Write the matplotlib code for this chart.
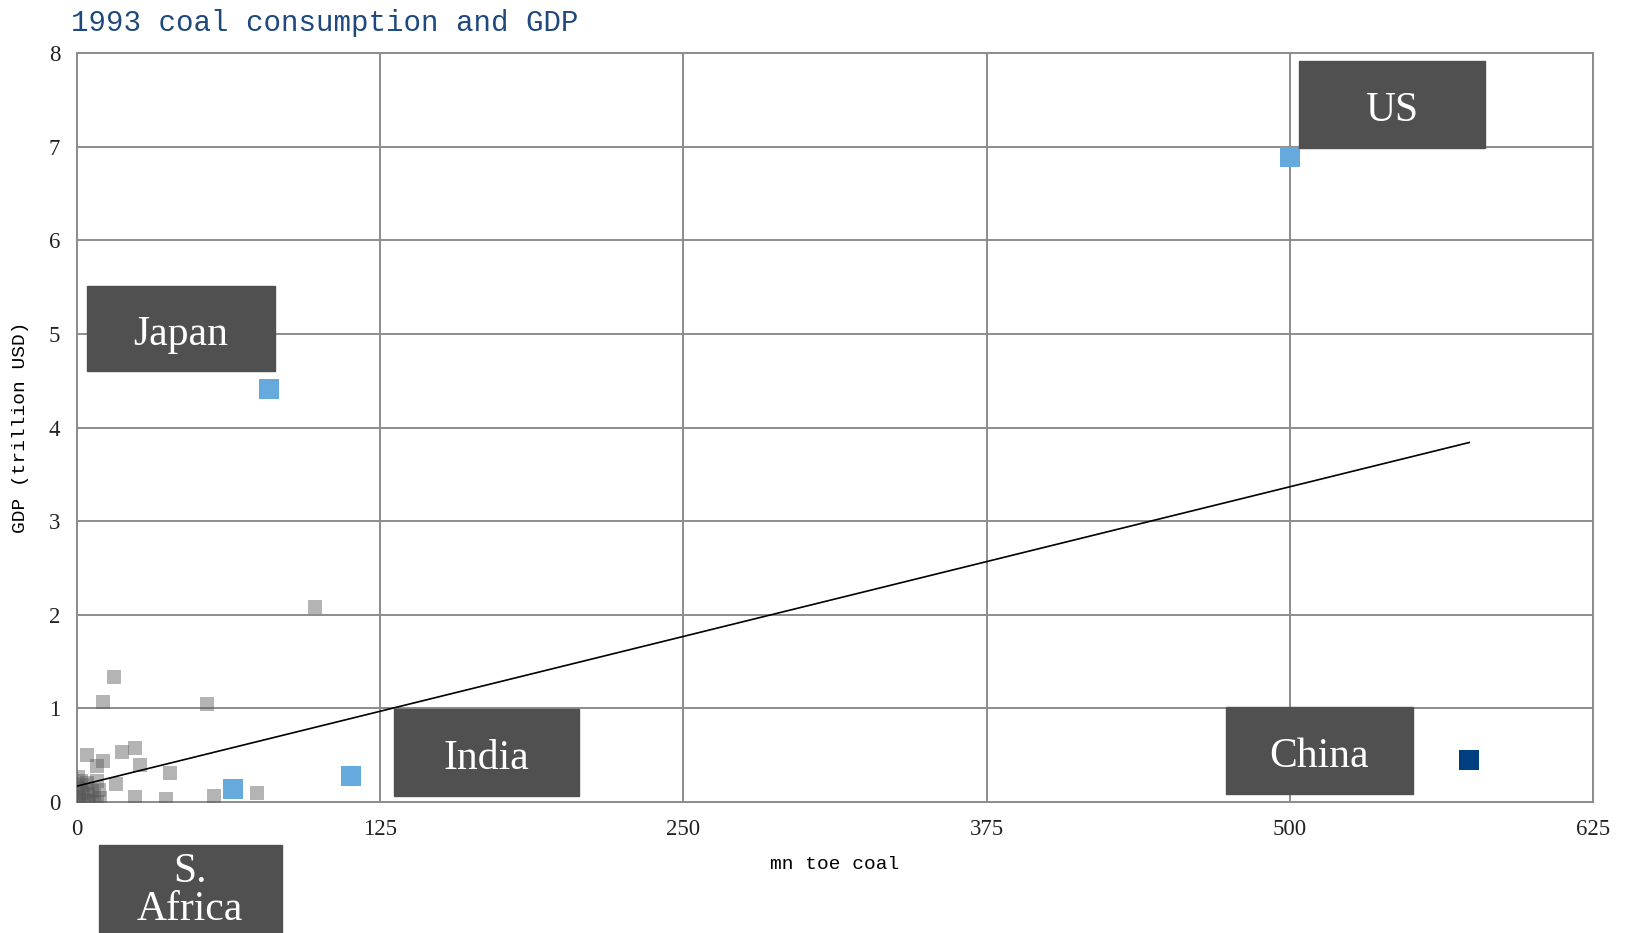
import matplotlib.pyplot as plt
from matplotlib.patches import Rectangle

# highlighted countries
hl_names = ["US", "Japan", "India", "S. Africa"]
hl_x = [500, 79, 112.8, 64.4]
hl_y = [6.89, 4.41, 0.28, 0.135]
china_x = [574]
china_y = [0.445]

# all other countries (mn toe coal, trillion USD)
other_x = [98.1, 15.1, 10.7, 53.6, 4.1, 10.7, 18.4, 23.9, 26.0, 38.3, 16.0, 8.1,
           23.9, 36.7, 56.5, 74.1, 8.1, 0.5, 4.0, 9.5, 2.0, 1.0, 6.0, 0.3, 3.0,
           7.0, 1.5, 5.0, 0.8, 2.5, 9.0, 0.2, 4.5, 8.1]
other_y = [2.08, 1.34, 1.07, 1.05, 0.50, 0.44, 0.53, 0.58, 0.40, 0.31, 0.19, 0.38,
           0.05, 0.03, 0.06, 0.10, 0.22, 0.27, 0.20, 0.04, 0.10, 0.05, 0.12, 0.15,
           0.02, 0.08, 0.22, 0.01, 0.03, 0.18, 0.13, 0.06, 0.09, 0.0]

# linear trend
trend_x = [0, 574]
trend_y = [0.17, 3.84]

x_ticks = [0, 125, 250, 375, 500, 625]
y_ticks = [0, 1, 2, 3, 4, 5, 6, 7, 8]

W, H = 1626, 933
plt.rcParams['font.family'] = ['Liberation Mono', 'DejaVu Sans']
serif = ['Liberation Serif', 'DejaVu Serif']

fig = plt.figure(figsize=(W / 100, H / 100), dpi=100)
ax = fig.add_axes([77 / W, 1 - 802 / H, 1516 / W, 749 / H])

grid_c = '#8c8c8c'
ax.set_xlim(0, 625)
ax.set_ylim(0, 8)
ax.set_xticks(x_ticks)
ax.set_yticks(y_ticks)
ax.grid(True, color=grid_c, linewidth=1.4)
ax.set_axisbelow(True)
for s in ax.spines.values():
    s.set_color(grid_c)
    s.set_linewidth(1.4)
ax.tick_params(length=0, pad=12, colors='#222222')
for lbl in ax.get_xticklabels() + ax.get_yticklabels():
    lbl.set_family(serif)
    lbl.set_fontsize(16.5)

ax.scatter(other_x, other_y, s=100, marker='s', color='#595959', alpha=0.45,
           linewidths=0, zorder=3)
ax.scatter(hl_x, hl_y, s=188, marker='s', color='#66aadd', linewidths=0, zorder=4)
ax.scatter(china_x, china_y, s=188, marker='s', color='#003f7f', linewidths=0, zorder=4)
ax.plot(trend_x, trend_y, color='black', linewidth=1.2, zorder=5)

ax.set_xlabel('mn toe coal', fontsize=14, labelpad=12)
ax.set_ylabel('GDP (trillion USD)', fontsize=14, labelpad=14)

fig.text(70.5 / W, 1 - 23 / H, '1993 coal consumption and GDP', fontsize=21,
         color='#1f497d', va='center', ha='left')

# label boxes (pixel positions: left, top, width, height, text offset)
boxes = [("US", 1299, 61, 186, 87, 6),
         ("China", 1226, 707, 187, 87, 6),
         ("Japan", 87, 286, 188, 85, 6),
         ("India", 394, 709, 185, 87, 6),
         ("S.\nAfrica", 98.5, 845, 183, 96, -2)]
for txt, bx, by, bw, bh, off in boxes:
    fig.add_artist(Rectangle((bx / W, 1 - (by + bh) / H), bw / W, bh / H,
                             transform=fig.transFigure, color='#505050', zorder=10))
    fig.text((bx + bw / 2) / W, 1 - (by + bh / 2 + off) / H, txt, color='white',
             family=serif, fontsize=30, ha='center', va='center', zorder=11,
             linespacing=1.0)

fig.savefig('out.png', dpi=100)
